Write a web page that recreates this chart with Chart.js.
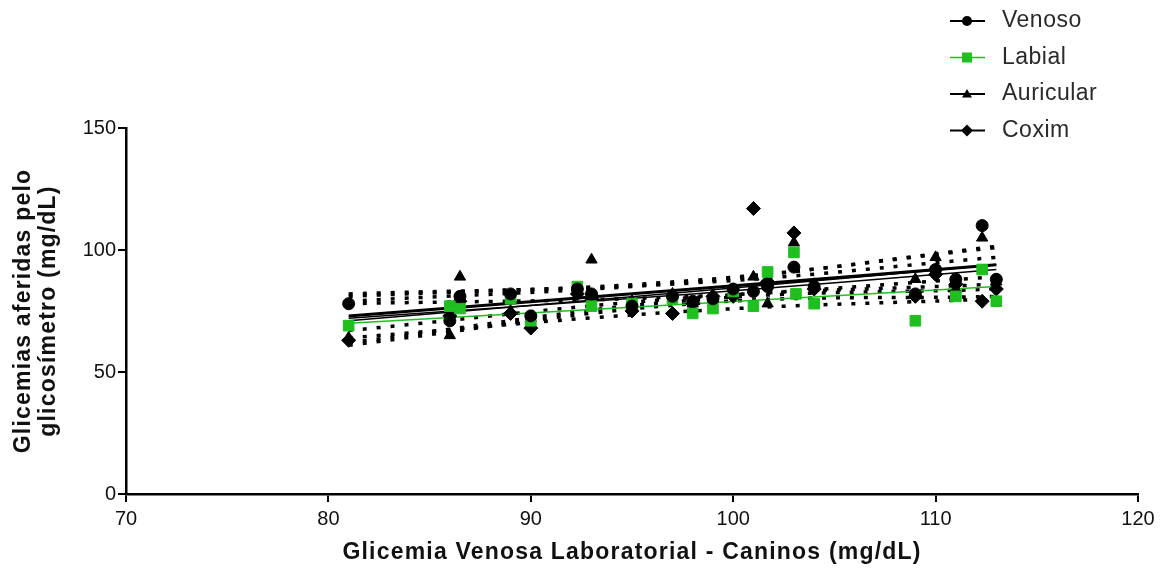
<!DOCTYPE html>
<html>
<head>
<meta charset="utf-8">
<script src="https://cdn.jsdelivr.net/npm/chart.js@4.4.1/dist/chart.umd.min.js"></script>
<style>
    html, body { margin: 0; padding: 0; background: #fff; }
    #wrap { width: 1164px; height: 572px; position: relative; }
</style>
</head>
<body>
<div id="wrap"><canvas id="glicemiaChart"></canvas></div>
<script>
// lab venous glucose of each dog (x) and the four glucometer readings (y)
const glicemiaVenosa = [81, 86, 86.5, 89, 90, 92.3, 93, 95, 97, 98, 99, 100, 101, 101.7, 103, 104, 109, 110, 111, 112.3, 113];
const venoso    = [78, 71, 81, 82, 73, 84, 82, 77, 81, 79, 80, 84, 83, 85, 93, 85, 82, 92, 88, 110, 88];
const auricular = [64, 65, 89, 75, 72, 83, 96, 79, 82, 78, 80, 82, 89, 78, 103, 86, 88, 97, 84, 105, 87];
const coxim     = [63, 73, 79, 74, 68, 82, 80, 75, 74, 78, 81, 81, 117, 87, 107, 84, 81, 90, 86, 79, 84];
const labialX   = [81, 86, 86.5, 89, 90, 92.3, 93, 95, 97, 98, 99, 100, 101, 101.7, 103, 103.1, 104, 109, 111, 112.3, 113];
const labial    = [69, 77, 76, 80, 71, 85, 77, 78, 80, 74, 76, 83, 77, 91, 99, 82, 78, 71, 81, 92, 79];

// regression lines and 95% bands at these x values
const bandX = [81, 98, 113];
const venosoFit      = [73, 84, 94];
const venosoUpper    = [81, 87.5, 101];
const venosoLower    = [67, 80.5, 86];
const labialFit      = [70, 78, 85];
const labialUpper    = [78, 81, 89];
const labialLower    = [64, 75, 80];
const auricularFit   = [71, 83, 94];
const auricularUpper = [79, 87, 101.5];
const auricularLower = [62, 79.5, 84];
const coximFit       = [72, 82, 92];
const coximUpper     = [82, 86.5, 97];
const coximLower     = [61, 78, 81];

const xTicks = [70, 80, 90, 100, 110, 120];
const yTicks = [0, 50, 100, 150];
const xTitle = 'Glicemia Venosa Laboratorial - Caninos (mg/dL)';
const yTitle = ['Glicemias aferidas pelo', 'glicosímetro (mg/dL)'];

const GREEN = '#1fbf1f';
const BLACK = '#000000';
const FAMILY = '"Liberation Sans", Arial, sans-serif';

function toPoints(xs, ys) {
    return ys.map((y, i) => ({ x: xs[i], y: y }));
}

function scatterSet(label, xs, ys, style, radius, color) {
    return {
        label: label,
        data: toPoints(xs, ys),
        pointStyle: style,
        pointRadius: radius,
        pointBackgroundColor: color,
        pointBorderColor: color,
        pointBorderWidth: 1,
        showLine: false
    };
}

function lineSet(ys, color, width, dash) {
    return {
        data: toPoints(bandX, ys),
        showLine: true,
        borderColor: color,
        borderWidth: width,
        borderDash: dash || [],
        pointRadius: 0,
        tension: 0.4,
        fill: false
    };
}

const dots = [4, 10];

const datasets = [
    scatterSet('Venoso', glicemiaVenosa, venoso, 'circle', 6, BLACK),
    scatterSet('Labial', labialX, labial, 'rect', 7.5, GREEN),
    scatterSet('Auricular', glicemiaVenosa, auricular, 'triangle', 6.5, BLACK),
    scatterSet('Coxim', glicemiaVenosa, coxim, 'rectRot', 7, BLACK),
    lineSet(venosoFit, BLACK, 3),
    lineSet(labialFit, GREEN, 1.5),
    lineSet(auricularFit, BLACK, 1.5),
    lineSet(coximFit, BLACK, 1.5),
    lineSet(venosoUpper, BLACK, 3.5, dots),
    lineSet(venosoLower, BLACK, 3.5, dots),
    lineSet(labialUpper, BLACK, 3.5, dots),
    lineSet(labialLower, BLACK, 3.5, dots),
    lineSet(auricularUpper, BLACK, 3.5, dots),
    lineSet(auricularLower, BLACK, 3.5, dots),
    lineSet(coximUpper, BLACK, 3.5, dots),
    lineSet(coximLower, BLACK, 3.5, dots)
];

// legend in the top right corner: short line with the marker, then the name
const legendItems = [
    { name: 'Venoso', style: 'circle', color: BLACK },
    { name: 'Labial', style: 'rect', color: GREEN },
    { name: 'Auricular', style: 'triangle', color: BLACK },
    { name: 'Coxim', style: 'rectRot', color: BLACK }
];

function drawMarker(ctx, style, x, y, r) {
    ctx.beginPath();
    if (style === 'circle') {
        ctx.arc(x, y, r, 0, Math.PI * 2);
    } else if (style === 'rect') {
        ctx.rect(x - r, y - r, r * 2, r * 2);
    } else if (style === 'triangle') {
        ctx.moveTo(x, y - r);
        ctx.lineTo(x + r, y + r * 0.7);
        ctx.lineTo(x - r, y + r * 0.7);
        ctx.closePath();
    } else {
        ctx.moveTo(x, y - r * 1.2);
        ctx.lineTo(x + r * 1.2, y);
        ctx.lineTo(x, y + r * 1.2);
        ctx.lineTo(x - r * 1.2, y);
        ctx.closePath();
    }
    ctx.fill();
}

const cornerLegend = {
    id: 'cornerLegend',
    afterDraw(chart) {
        const ctx = chart.ctx;
        ctx.save();
        legendItems.forEach((item, i) => {
            const y = 21 + i * 36.5;
            ctx.strokeStyle = item.color;
            ctx.fillStyle = item.color;
            ctx.lineWidth = item.color === GREEN ? 1.5 : 2;
            ctx.beginPath();
            ctx.moveTo(950, y);
            ctx.lineTo(985, y);
            ctx.stroke();
            drawMarker(ctx, item.style, 967, y, 5);
            ctx.fillStyle = '#2a2a2a';
            ctx.font = '23px ' + FAMILY;
            ctx.letterSpacing = '0.5px';
            ctx.textBaseline = 'middle';
            ctx.textAlign = 'left';
            ctx.fillText(item.name, 1002, y);
        });
        ctx.restore();
    }
};

// axis titles drawn by hand so the wider lettering of the original can be kept
const axisTitles = {
    id: 'axisTitles',
    afterDraw(chart) {
        const ctx = chart.ctx;
        const area = chart.chartArea;
        ctx.save();
        ctx.font = 'bold 23px ' + FAMILY;
        ctx.fillStyle = '#111';
        ctx.textAlign = 'center';
        ctx.textBaseline = 'middle';
        ctx.letterSpacing = '1.2px';
        ctx.fillText(xTitle, (area.left + area.right) / 2, 553);
        ctx.translate(24, (area.top + area.bottom) / 2);
        ctx.rotate(-Math.PI / 2);
        ctx.fillText(yTitle[0], 0, 0);
        ctx.fillText(yTitle[1], 0, 25);
        ctx.restore();
    }
};

const tickFont = { family: FAMILY, size: 20 };

var ctx = document.getElementById('glicemiaChart').getContext('2d');
var chart = new Chart(ctx, {
    type: 'scatter',
    data: { datasets: datasets },
    options: {
        responsive: true,
        maintainAspectRatio: false,
        animation: false,
        layout: { padding: { top: 128, right: 26, left: 0, bottom: 0 } },
        scales: {
            x: {
                type: 'linear',
                min: 70,
                max: 120,
                afterBuildTicks: scale => { scale.ticks = xTicks.map(v => ({ value: v })); },
                afterFit: scale => { scale.height = 78; },
                border: { display: true, color: BLACK, width: 2.5 },
                grid: { display: true, drawOnChartArea: false, drawTicks: true, tickLength: 8, color: BLACK, lineWidth: 2 },
                ticks: { color: '#111', font: tickFont, padding: 5, maxRotation: 0 },
                title: { display: false }
            },
            y: {
                type: 'linear',
                min: 0,
                max: 150,
                afterBuildTicks: scale => { scale.ticks = yTicks.map(v => ({ value: v })); },
                afterFit: scale => { scale.width = 126; },
                border: { display: true, color: BLACK, width: 2.5 },
                grid: { display: true, drawOnChartArea: false, drawTicks: true, tickLength: 8, color: BLACK, lineWidth: 2 },
                ticks: { color: '#111', font: tickFont, padding: 2 },
                title: { display: false }
            }
        },
        plugins: {
            legend: { display: false },
            tooltip: { enabled: false }
        }
    },
    plugins: [cornerLegend, axisTitles]
});
</script>
</body>
</html>
